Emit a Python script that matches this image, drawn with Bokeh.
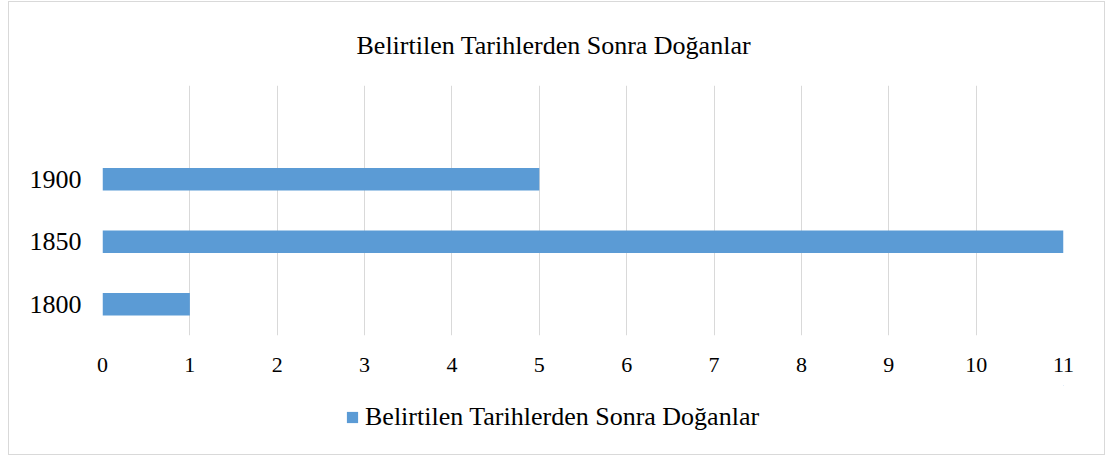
from bokeh.plotting import figure
from bokeh.layouts import column
from bokeh.models import Range1d, Legend, LegendItem
from bokeh.embed import file_html
from bokeh.resources import INLINE

categories = ["1800", "1850", "1900"]
values = [1, 11, 5]
series_name = "Belirtilen Tarihlerden Sonra Doğanlar"
chart_title = "Belirtilen Tarihlerden Sonra Doğanlar"
x_ticks = list(range(0, 12))

positions = list(range(1, len(categories) + 1))
FONT = "Liberation Serif"
BAR = "#5B9BD5"

p = figure(width=1095, height=383, output_backend="svg", toolbar_location=None,
           x_range=Range1d(0, 11), y_range=Range1d(0.5, len(categories) + 1.5),
           title=chart_title, min_border_left=93, min_border_right=41,
           min_border_top=83, min_border_bottom=50)

r = p.hbar(y=positions, right=values, left=0, height=0.36, fill_color=BAR, line_color=None)

p.title.text_font = FONT
p.title.text_font_size = "26px"
p.title.text_font_style = "normal"
p.title.text_color = "#000000"
p.title.align = "left"
p.title.offset = 254
p.title.standoff = 51

p.xaxis.ticker = x_ticks
p.yaxis.ticker = positions
p.yaxis.major_label_overrides = {pos: c for pos, c in zip(positions, categories)}
for ax in (p.xaxis[0], p.yaxis[0]):
    ax.axis_line_color = None
    ax.major_tick_line_color = None
    ax.minor_tick_line_color = None
    ax.major_label_text_font = FONT
    ax.major_label_text_color = "#000000"
p.xaxis.major_label_text_font_size = "22px"
p.yaxis.major_label_text_font_size = "26px"
p.xaxis.major_label_standoff = 16
p.yaxis.major_label_standoff = 15

p.ygrid.visible = False
p.xgrid.grid_line_color = "#d9d9d9"
p.xgrid.grid_line_width = 1
p.outline_line_color = None

# legend strip below the chart (its bars lie outside its view)
lp = figure(width=1095, height=69, output_backend="svg", toolbar_location=None,
            x_range=Range1d(-100, -99), y_range=Range1d(-100, -99),
            x_axis_location=None, y_axis_location=None,
            min_border_left=0, min_border_right=0, min_border_top=0, min_border_bottom=0)
lp.xgrid.visible = False
lp.ygrid.visible = False
lp.outline_line_color = None
lr = lp.hbar(y=positions, right=values, left=0, height=0.36, fill_color=BAR, line_color=None)

legend = Legend(items=[LegendItem(label=series_name, renderers=[lr])],
                location=(243, 22), orientation="horizontal",
                border_line_color=None, background_fill_alpha=0,
                label_text_font=FONT, label_text_font_size="26px",
                label_text_color="#000000",
                glyph_width=14, glyph_height=14, label_standoff=6,
                padding=0, margin=0)
lp.add_layout(legend, "center")

layout = column(p, lp, spacing=0,
                styles={"border": "1px solid #d9d9d9", "margin-left": "8px", "margin-top": "1px"})

open("out.html", "w").write(file_html(layout, INLINE))
